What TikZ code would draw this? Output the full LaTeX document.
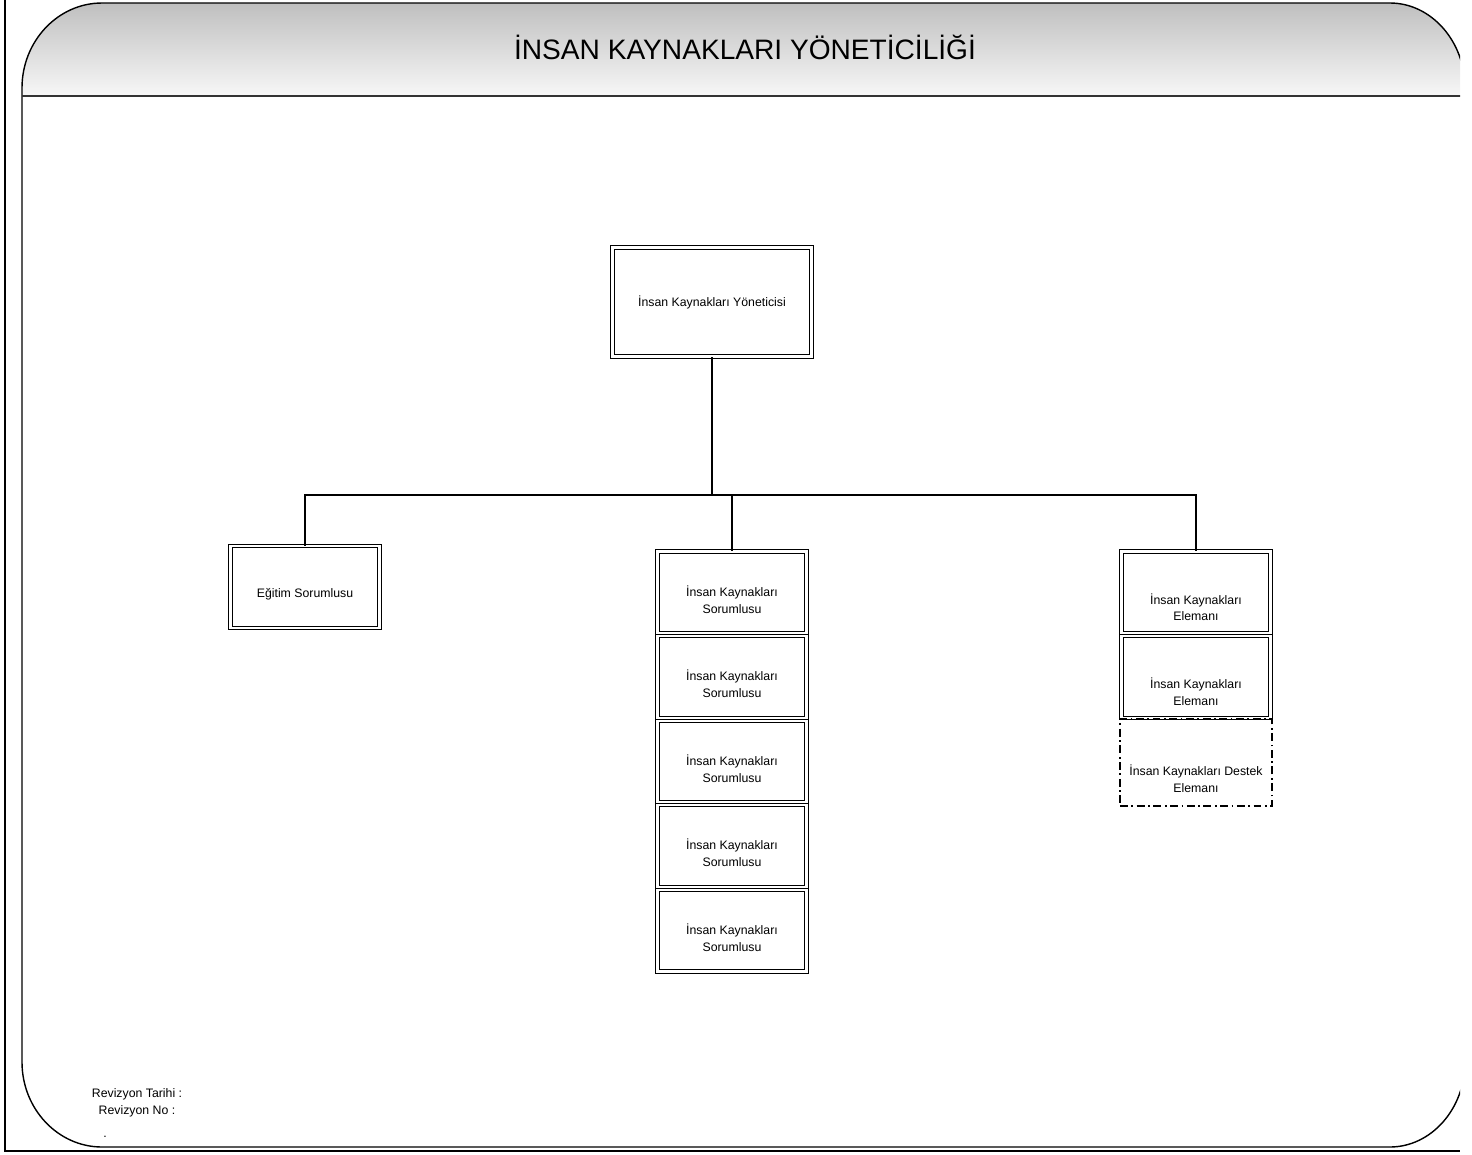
\documentclass[tikz,border=0pt]{standalone}
\usepackage{fontspec}
\setmainfont{Liberation Sans}
\begin{document}
\begin{tikzpicture}[
        x=0.02cm, y=-0.02cm,
        every node/.style={align=center, font=\fontsize{7}{9.6}\selectfont},
        every label/.style={inner sep=0pt},
        birim/.style={draw, double, line width=0.6pt, double distance=1.2pt, minimum width=2.98cm, minimum height=1.632cm, inner sep=1pt},
        destek/.style={draw, line width=0.6pt, dash pattern=on 4.5pt off 2pt on 1pt off 2pt, minimum width=3.04cm, minimum height=1.74cm, inner sep=1pt}
    ]
    \useasboundingbox (0,0) rectangle (1472,1154);

    % cerceve ve baslik alani
    \begin{scope}
        \clip (0,0) rectangle (1460,1154);
        \shade[top color=black!25, bottom color=black!3] (22,96) -- (22,88) .. controls (22,41) and (58,3) .. (102,3) -- (1390,3) .. controls (1431,3) and (1465,41) .. (1465,88) -- (1465,96) -- cycle;
        \draw[line width=0.8pt] (22,88) .. controls (22,41) and (58,3) .. (102,3) -- (1390,3) .. controls (1431,3) and (1465,41) .. (1465,88) -- (1465,1062) .. controls (1465,1109) and (1431,1147) .. (1390,1147) -- (102,1147) .. controls (58,1147) and (22,1109) .. (22,1062) -- cycle;
        \draw[line width=1pt, black!80] (22,96) -- (1465,96);
        \draw[line width=0.8pt] (5,0) -- (5,1151) -- (1460,1151);
    \end{scope}

    \node[font=\fontsize{16}{19}\selectfont] (baslik) at (745,47) {İNSAN KAYNAKLARI YÖNETİCİLİĞİ};

    \node[birim, minimum width=3.98cm, minimum height=2.18cm] (yonetici) at (712,302) {İnsan Kaynakları Yöneticisi};
    \node[birim, label={[yshift=-4pt]center:{Eğitim Sorumlusu}}] (egitim) at (305,587) {};

    \node[birim, label={[yshift=-4pt]center:{İnsan Kaynakları\\Sorumlusu}}] (iks1) at (732,592.3) {};
    \node[birim, label={[yshift=-4pt]center:{İnsan Kaynakları\\Sorumlusu}}] (iks2) at (732,676.9) {};
    \node[birim, label={[yshift=-4pt]center:{İnsan Kaynakları\\Sorumlusu}}] (iks3) at (732,761.5) {};
    \node[birim, label={[yshift=-4pt]center:{İnsan Kaynakları\\Sorumlusu}}] (iks4) at (732,846.1) {};
    \node[birim, label={[yshift=-4pt]center:{İnsan Kaynakları\\Sorumlusu}}] (iks5) at (732,930.7) {};

    \node[birim, label={[yshift=-8.5pt]center:{İnsan Kaynakları\\Elemanı}}] (ike1) at (1196,592.3) {};
    \node[birim, label={[yshift=-8.5pt]center:{İnsan Kaynakları\\Elemanı}}] (ike2) at (1196,676.9) {};
    \node[destek, label={[yshift=-9pt]center:{İnsan Kaynakları Destek\\Elemanı}}] (destek) at (1196,762.5) {};

    \coordinate (dal) at (712,495);
    \draw[line width=0.6pt] (yonetici.south) -- (dal);
    \draw[line width=0.6pt] (dal) -| (egitim.north);
    \draw[line width=0.6pt] (dal) -| (iks1.north);
    \draw[line width=0.6pt] (dal) -| (ike1.north);

    \node (revizyon) at (137,1103) {Revizyon Tarihi :\\Revizyon No :};
    \node (nokta) at (105,1137) {.};
\end{tikzpicture}
\end{document}
